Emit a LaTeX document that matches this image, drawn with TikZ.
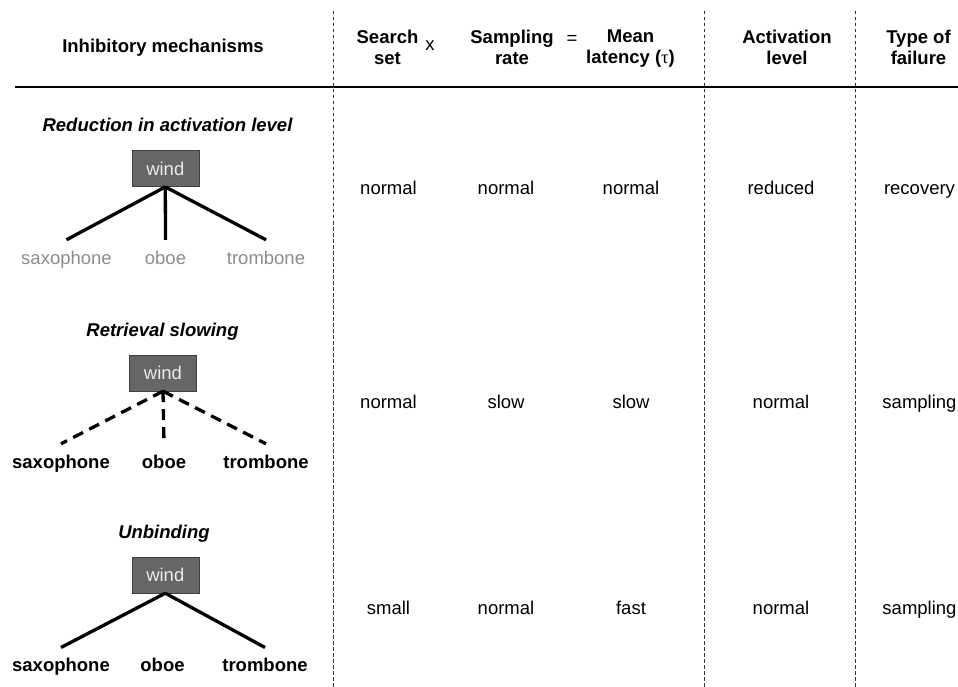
\documentclass[tikz,border=0pt]{standalone}
\usepackage{fontspec}
\setmainfont{Liberation Sans}
\newfontfamily\taufont{Liberation Serif}
\usetikzlibrary{positioning}

\begin{document}
\begin{tikzpicture}[x=1pt,y=-1pt,
  every node/.style={font=\fontsize{18.5}{21}\selectfont},
  header/.style={font=\fontsize{18.5}{21}\selectfont\bfseries,align=center},
  mech/.style={font=\fontsize{18.5}{21}\selectfont\bfseries\itshape,anchor=base},
  wind/.style={rectangle,draw=black!75,fill=black!60,text=white!92!black,minimum width=67pt,minimum height=36pt,inner sep=0pt},
  leaf/.style={anchor=base,text height=13pt,inner xsep=0pt,inner ysep=11pt},
  gone/.style={leaf,text=black!45},
  kept/.style={leaf,font=\fontsize{18.5}{21}\selectfont\bfseries},
  val/.style={anchor=base},
  link/.style={draw,line width=3.3pt},
  weak/.style={link,dash pattern=on 11pt off 7pt},
  divider/.style={draw=black!80,line width=0.9pt,dash pattern=on 3.5pt off 2.5pt}]

  \useasboundingbox (0,0) rectangle (958,687);

  % header
  \node[header,anchor=base] (hmech) at (163,53) {Inhibitory mechanisms};
  \node[header] (hset) at (387.5,47) {Search\\set};
  \node (times) at (430,46) {x};
  \node[header] (hrate) at (512,47) {Sampling\\rate};
  \node (equals) at (572,40) {=};
  \node[header] (hlat) at (630.5,49) {Mean\\latency ({\taufont\mdseries τ})};
  \node[header] (hact) at (787,47) {Activation\\level};
  \node[header] (htype) at (918.5,47) {Type of\\failure};

  % rules
  \coordinate (ruleL) at (15,87);
  \coordinate (ruleR) at (958,87);
  \draw[line width=1.2pt] (ruleL) -- (ruleR);
  \foreach \i/\x in {1/333.5,2/704,3/855.5}{
    \coordinate (top\i) at (\x,11);
    \coordinate (bot\i) at (\x,687);
    \draw[divider] (top\i) -- (bot\i);
  }

  % reduction in activation level
  \node[mech] (m1) at (167.5,132) {Reduction in activation level};
  \node[wind] (w1) at (165.3,168.7) {wind};
  \node[gone] (sax1) at (66.5,264) {saxophone};
  \node[gone] (oboe1) at (165.5,264) {oboe};
  \node[gone] (trom1) at (266,264) {trombone};
  \draw[link] (w1.south) -- (sax1.north);
  \draw[link] (w1.south) -- (oboe1.north);
  \draw[link] (w1.south) -- (trom1.north);

  % retrieval slowing
  \node[mech] (m2) at (162.5,336.7) {Retrieval slowing};
  \node[wind] (w2) at (163,373) {wind};
  \node[kept] (sax2) at (61,468) {saxophone};
  \node[kept] (oboe2) at (164,468) {oboe};
  \node[kept] (trom2) at (266,468) {trombone};
  \draw[weak] (w2.south) -- (sax2.north);
  \draw[weak] (w2.south) -- (oboe2.north);
  \draw[weak] (w2.south) -- (trom2.north);

  % unbinding
  \node[mech] (m3) at (164,538) {Unbinding};
  \node[wind] (w3) at (165.3,575) {wind};
  \node[kept] (sax3) at (61,671.7) {saxophone};
  \node[kept] (oboe3) at (162.5,671.7) {oboe};
  \node[kept] (trom3) at (265,671.7) {trombone};
  \draw[link] (w3.south) -- (sax3.north);
  \draw[link] (w3.south) -- (trom3.north);

  % values
  \foreach \r/\y/\a/\b/\c/\d/\e in {1/195/normal/normal/normal/reduced/recovery,
                                    2/408/normal/slow/slow/normal/sampling,
                                    3/614/small/normal/fast/normal/sampling}{
    \node[val] (set\r) at (388.5,\y) {\a};
    \node[val] (rate\r) at (506,\y) {\b};
    \node[val] (lat\r) at (631,\y) {\c};
    \node[val] (act\r) at (781,\y) {\d};
    \node[val] (type\r) at (919.5,\y) {\e};
  }
\end{tikzpicture}
\end{document}
